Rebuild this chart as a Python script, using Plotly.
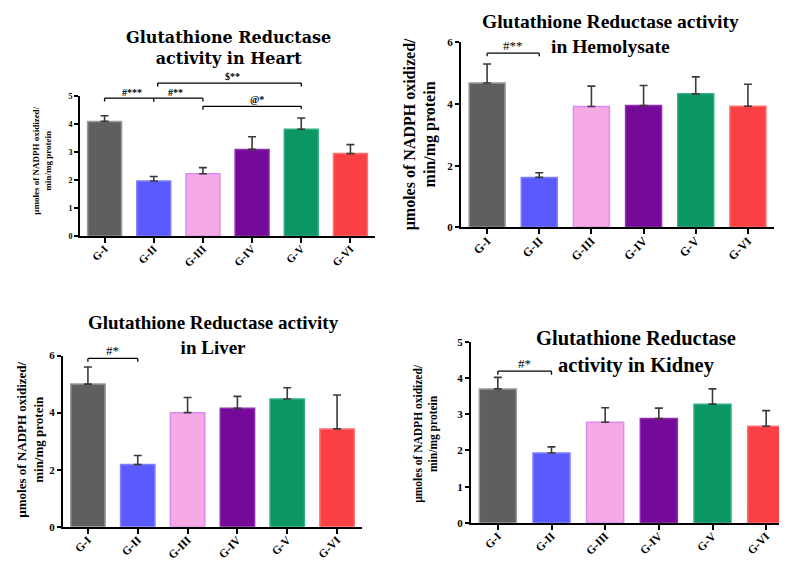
import plotly.graph_objects as go

groups = ["G-I", "G-II", "G-III", "G-IV", "G-V", "G-VI"]

heart_mean = [4.10, 1.97, 2.23, 3.10, 3.82, 2.95]
heart_sem = [0.20, 0.16, 0.22, 0.45, 0.40, 0.32]

hemo_mean = [4.68, 1.62, 3.92, 3.95, 4.33, 3.93]
hemo_sem = [0.62, 0.15, 0.66, 0.65, 0.55, 0.71]

liver_mean = [5.00, 2.18, 4.00, 4.15, 4.48, 3.43]
liver_sem = [0.60, 0.32, 0.53, 0.42, 0.39, 1.19]

kidney_mean = [3.70, 1.93, 2.78, 2.88, 3.28, 2.67]
kidney_sem = [0.32, 0.17, 0.40, 0.29, 0.42, 0.43]

fill_colors = ["#5f5f5f", "#5a5aff", "#f5aae6", "#74099a", "#0b9664", "#fa4044"]
edge_colors = ["#9a9a9a", "#8080ff", "#dc8cf0", "#8c30b0", "#30b080", "#ff7070"]

W, H = 787, 562

def px_x(p):
    return p / W

def px_y(p):
    return 1 - p / H

panels = [
    # name, means, sems, x0,x1 px, y-bottom px, y-top px, ymax, dtick, xtick font size
    ("heart", heart_mean, heart_sem, 72, 367, 227, 84, 5, 1, 11),
    ("hemo", hemo_mean, hemo_sem, 453, 766, 218, 29, 6, 2, 12),
    ("liver", liver_mean, liver_sem, 55, 354, 524, 349, 6, 2, 11.5),
    ("kidney", kidney_mean, kidney_sem, 463, 785, 520, 335, 5, 1, 11.5),
]

fig = go.Figure()
layout = {}
serif = "Times New Roman, Liberation Serif, serif"

for i, (name, m, s, x0, x1, yb, yt, ymax, dt, xfs) in enumerate(panels):
    k = "" if i == 0 else str(i + 1)
    fig.add_trace(go.Bar(
        x=groups, y=m,
        xaxis="x" + k, yaxis="y" + k,
        marker=dict(color=fill_colors, line=dict(color=edge_colors, width=1.5)),
        error_y=dict(type="data", array=s, arrayminus=[0] * len(s), symmetric=False,
                     color="#3a3a3a", thickness=1.6, width=4),
        showlegend=False,
    ))
    small = (name == "heart")
    layout["xaxis" + k] = dict(
        domain=[px_x(x0), px_x(x1)], anchor="y" + k,
        showline=True, linecolor="black", linewidth=2,
        ticks="outside", ticklen=5, tickwidth=1.5, tickcolor="black",
        tickangle=-45, showgrid=False, ticklabelstandoff=-5,
        tickfont=dict(family=serif, size=xfs, color="black", weight="bold"),
    )
    layout["yaxis" + k] = dict(
        domain=[px_y(yb), px_y(yt)], anchor="x" + k,
        range=[0, ymax], dtick=dt,
        showline=True, linecolor="black", linewidth=2,
        ticks="outside", ticklen=4, tickwidth=1.5, tickcolor="black",
        showgrid=False, zeroline=False,
        tickfont=dict(family=serif, size=8 if small else 11, color="black", weight="bold"),
    )

layout["bargap"] = 0.31

annotations = []
shapes = []

# Titles
titles = [
    ("Glutathione Reductase<br>activity in Heart", 220, 35, "DejaVu Serif", 16),
    ("Glutathione Reductase activity<br>in Hemolysate", 602, 20, serif, 19.5),
    ("Glutathione Reductase activity<br>in Liver", 205, 328, serif, 19),
    ("Glutathione Reductase<br>activity in Kidney", 628, 345, serif, 20.5),
]
for t, x, y, fam, sz in titles:
    annotations.append(dict(text=t, x=px_x(x), y=px_y(y), xref="paper", yref="paper",
                            showarrow=False, xanchor="center", yanchor="middle",
                            font=dict(family=fam, size=sz, color="black", weight="bold")))

# Y-axis labels
ylab = "µmoles of NADPH oxidized/<br>min/mg protein"
for x, y, sz in [(34, 150, 9), (412, 123, 16), (22, 435, 13), (418, 428, 11.5)]:
    annotations.append(dict(text=ylab, x=px_x(x), y=px_y(y), xref="paper", yref="paper",
                            showarrow=False, textangle=-90, xanchor="center", yanchor="middle",
                            font=dict(family=serif, size=sz, color="black", weight="bold")))

# heart panel: convert data values to paper (bracket above plotting range)
def heart_py(v):
    return px_y(227 - v * (227 - 84) / 5)

def bracket(k, xa, xb, y, drop_a, drop_b, text, tx, ty, size=12, conv=None):
    xr = "x" + k
    if conv is None:
        yr = "y" + k
        f = lambda v: v
    else:
        yr = "paper"
        f = conv
    shapes.append(dict(type="line", xref=xr, yref=yr, x0=xa, x1=xb, y0=f(y), y1=f(y),
                       line=dict(color="black", width=1.3)))
    shapes.append(dict(type="line", xref=xr, yref=yr, x0=xa, x1=xa, y0=f(y), y1=f(y - drop_a),
                       line=dict(color="black", width=1.3)))
    shapes.append(dict(type="line", xref=xr, yref=yr, x0=xb, x1=xb, y0=f(y), y1=f(y - drop_b),
                       line=dict(color="black", width=1.3)))
    annotations.append(dict(text=text, x=tx, y=f(ty), xref=xr, yref=yr, showarrow=False,
                            yanchor="bottom", xanchor="center",
                            font=dict(family=serif, size=size, color="black")))

# Heart brackets
bracket("", 0, 2, 4.93, 0.12, 0.12, "<b>#***</b>", 0.55, 4.88, 10, heart_py)
shapes.append(dict(type="line", xref="x", yref="paper", x0=1, x1=1, y0=heart_py(4.93), y1=heart_py(4.8),
                   line=dict(color="black", width=1.3)))
annotations.append(dict(text="<b>#**</b>", x=1.45, y=heart_py(4.88), xref="x", yref="paper", showarrow=False,
                        yanchor="bottom", font=dict(family=serif, size=10, color="black")))
bracket("", 1.08, 4, 5.47, 0.12, 0.12, "<b>$**</b>", 2.6, 5.45, 10, heart_py)
bracket("", 2, 4, 4.64, 0.12, 0.1, "<b>@*</b>", 3.1, 4.62, 10, heart_py)

# Other panels
bracket("2", 0, 1, 5.65, 0.1, 0.1, "#**", 0.5, 5.6, 13)
bracket("3", 0, 1, 5.9, 0.12, 0.12, "#*", 0.5, 5.85, 13)
bracket("4", 0, 1, 4.19, 0.1, 0.1, "#*", 0.5, 4.15, 13)

layout.update(
    width=W, height=H,
    margin=dict(l=0, r=0, t=0, b=0),
    paper_bgcolor="white", plot_bgcolor="white",
    annotations=annotations, shapes=shapes,
)
fig.update_layout(**layout)
fig.write_html("out.html")
